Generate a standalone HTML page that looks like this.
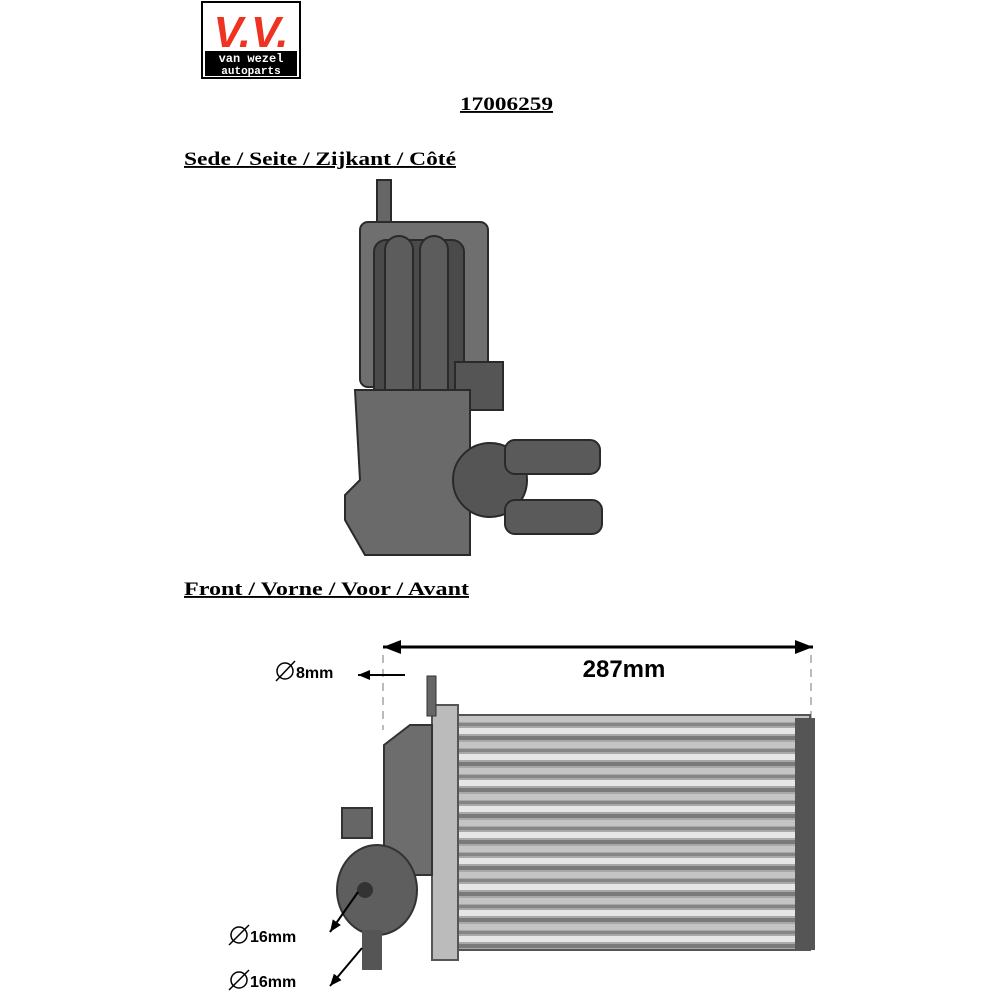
<!DOCTYPE html><html><head><style>body{margin:0;background:#fff}svg{display:block}.s{font-family:"Liberation Serif",serif}.a{font-family:"Liberation Sans",sans-serif}.m{font-family:"Liberation Mono",monospace}</style></head><body>
<svg width="1000" height="1000" xmlns="http://www.w3.org/2000/svg">
<defs>
<pattern id="rows" width="10" height="26" patternUnits="userSpaceOnUse"><rect width="10" height="26" fill="#a8a8a8"/><rect y="0" width="10" height="6" fill="#e6e6e6"/><rect y="8" width="10" height="4" fill="#7a7a7a"/><rect y="14" width="10" height="6" fill="#c4c4c4"/><rect y="21" width="10" height="3" fill="#858585"/></pattern>
<marker id="ah" markerUnits="userSpaceOnUse" markerWidth="18" markerHeight="14" refX="18" refY="7" orient="auto-start-reverse"><path d="M0,0 L18,7 L0,14 z" fill="#000"/></marker>
<marker id="as" markerUnits="userSpaceOnUse" markerWidth="12" markerHeight="10" refX="12" refY="5" orient="auto"><path d="M0,0 L12,5 L0,10 z" fill="#000"/></marker>
</defs>
<!-- logo -->
<rect x="202" y="2" width="98" height="76" fill="#fff" stroke="#000" stroke-width="2"/>
<text class="a" x="251" y="47" font-weight="bold" font-size="44" fill="#e32" text-anchor="middle" font-style="italic">V.V.</text>
<rect x="205" y="51" width="92" height="25" fill="#000"/>
<text class="m" x="251" y="62" font-weight="bold" font-size="12" fill="#fff" text-anchor="middle">van wezel</text>
<text class="m" x="251" y="74" font-weight="bold" font-size="11" fill="#fff" text-anchor="middle">autoparts</text>
<text class="s" x="460" y="110" font-weight="bold" font-size="19" textLength="93" lengthAdjust="spacingAndGlyphs" text-decoration="underline">17006259</text>
<text class="s" x="184" y="165" font-weight="bold" font-size="19" textLength="272" lengthAdjust="spacingAndGlyphs" text-decoration="underline">Sede / Seite / Zijkant / Côté</text>
<text class="s" x="184" y="595" font-weight="bold" font-size="19" textLength="285" lengthAdjust="spacingAndGlyphs" text-decoration="underline">Front / Vorne / Voor / Avant</text>
<!-- side part -->
<g fill="#555" stroke="#2a2a2a" stroke-width="2">
<rect x="377" y="180" width="14" height="50" fill="#666"/>
<rect x="360" y="222" width="128" height="165" rx="8" fill="#6f6f6f"/>
<rect x="374" y="240" width="90" height="170" rx="12" fill="#4a4a4a"/>
<rect x="385" y="236" width="28" height="170" rx="14" fill="#5c5c5c"/>
<rect x="420" y="236" width="28" height="170" rx="14" fill="#5c5c5c"/>
<rect x="455" y="362" width="48" height="48" fill="#555"/>
<path d="M355 390 H470 V555 H365 L345 520 V495 L360 480 Z" fill="#6a6a6a"/>
<circle cx="490" cy="480" r="37" fill="#555"/>
<rect x="505" y="440" width="95" height="34" rx="10" fill="#5a5a5a"/>
<rect x="505" y="500" width="97" height="34" rx="10" fill="#5a5a5a"/>
</g>
<!-- front dimension -->
<line x1="383" y1="647" x2="813" y2="647" stroke="#000" stroke-width="3" marker-start="url(#ah)" marker-end="url(#ah)"/>
<line x1="383" y1="655" x2="383" y2="730" stroke="#bbb" stroke-width="2" stroke-dasharray="8,6"/>
<line x1="811" y1="655" x2="811" y2="720" stroke="#bbb" stroke-width="2" stroke-dasharray="8,6"/>
<text class="a" x="624" y="677" font-weight="bold" font-size="24" text-anchor="middle">287mm</text>
<line x1="405" y1="675" x2="358" y2="675" stroke="#000" stroke-width="2" marker-end="url(#as)"/>
<circle cx="285" cy="671" r="8" fill="none" stroke="#000" stroke-width="1.5"/><line x1="276" y1="681" x2="295" y2="661" stroke="#000" stroke-width="1.5"/>
<text class="a" x="296" y="678" font-weight="bold" font-size="16">8mm</text>
<!-- radiator -->
<rect x="455" y="715" width="355" height="235" fill="url(#rows)" stroke="#555" stroke-width="2"/>
<rect x="795" y="718" width="20" height="232" fill="#555"/>
<rect x="432" y="705" width="26" height="255" fill="#bbb" stroke="#555" stroke-width="2"/>
<rect x="427" y="676" width="9" height="40" fill="#666" stroke="#333"/>
<path d="M384 745 L410 725 H432 V875 H384 Z" fill="#6d6d6d" stroke="#333" stroke-width="2"/>
<rect x="342" y="808" width="30" height="30" fill="#666" stroke="#333" stroke-width="2"/>
<ellipse cx="377" cy="890" rx="40" ry="45" fill="#5e5e5e" stroke="#333" stroke-width="2"/>
<circle cx="365" cy="890" r="8" fill="#333"/><circle cx="372" cy="945" r="8" fill="#333"/>
<rect x="362" y="930" width="20" height="40" fill="#555"/>
<line x1="358" y1="892" x2="330" y2="932" stroke="#000" stroke-width="2" marker-end="url(#as)"/>
<line x1="362" y1="948" x2="330" y2="986" stroke="#000" stroke-width="2" marker-end="url(#as)"/>
<g class="a" font-weight="bold" font-size="16">
<circle cx="239" cy="935" r="8" fill="none" stroke="#000" stroke-width="1.5"/><line x1="229" y1="945" x2="249" y2="925" stroke="#000" stroke-width="1.5"/>
<text class="a" x="250" y="942">16mm</text>
<circle cx="239" cy="980" r="8" fill="none" stroke="#000" stroke-width="1.5"/><line x1="229" y1="990" x2="249" y2="970" stroke="#000" stroke-width="1.5"/>
<text class="a" x="250" y="987">16mm</text></g>
</svg></body></html>
